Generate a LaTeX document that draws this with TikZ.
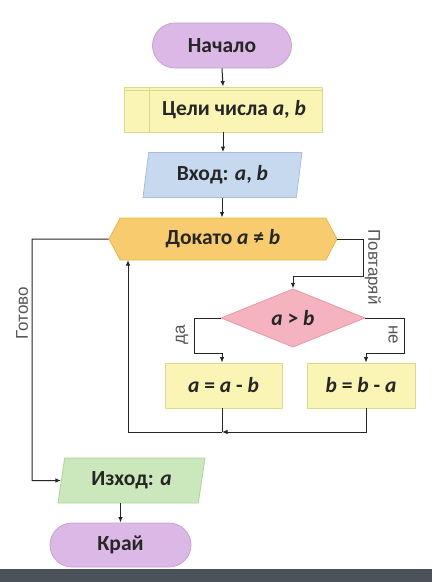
\documentclass[tikz,border=0pt]{standalone}
\usepackage{fontspec}
\setmainfont{Carlito}
\newfontfamily\lblfont{Liberation Sans}
\usetikzlibrary{shapes.geometric,shapes.misc,shapes.symbols,arrows.meta}
\definecolor{termF}{HTML}{DBB8E6}
\definecolor{termB}{HTML}{C7A2D3}
\definecolor{yelF}{HTML}{FAF5B4}
\definecolor{yelB}{HTML}{DCD88E}
\definecolor{bluF}{HTML}{C6D9EF}
\definecolor{bluB}{HTML}{A8BEDA}
\definecolor{oraF}{HTML}{F8CC6E}
\definecolor{oraB}{HTML}{E2B450}
\definecolor{pinF}{HTML}{F4B3BF}
\definecolor{pinB}{HTML}{E39BA8}
\definecolor{grnF}{HTML}{CBE8BC}
\definecolor{grnB}{HTML}{AED39C}
\definecolor{lblC}{HTML}{555555}
\definecolor{barC}{HTML}{4B5259}
\begin{document}
\begin{tikzpicture}[x=1pt,y=-1pt,
  txt/.style={font=\bfseries\fontsize{21.5}{24}\selectfont, text=black!85, inner sep=0pt},
  term/.style={txt, rounded rectangle, draw=termB, fill=termF, line width=0.8pt, minimum width=139pt, minimum height=45pt},
  proc/.style={txt, rectangle, draw=yelB, fill=yelF, line width=0.8pt, minimum height=45pt},
  io/.style={txt, trapezium, trapezium stretches body, line width=0.8pt, minimum height=45pt},
  lbl/.style={font=\lblfont\fontsize{17}{20}\selectfont, text=lblC, inner sep=0pt},
  arr/.style={-{Latex[length=5.5pt,width=4.5pt]}, line width=1pt, black!85},
  ln/.style={line width=1pt, black!85}]
\useasboundingbox (0,0) rectangle (432,582);
\fill[barC] (0,569) rectangle (432,582);

\node[term] (start) at (222,45.5) {Начало};
\node[proc, minimum width=198pt] (vars) at (223,109.5) {\hspace*{22pt}\raisebox{-3pt}{Цели числа \textit{a}, \textit{b}}};
\draw[yelB, line width=0.8pt] ([xshift=26pt]vars.north west) -- ([xshift=26pt]vars.south west);
\draw[yelB, line width=0.8pt] ([yshift=-4pt]vars.north west) -- ([yshift=-4pt]vars.north east);
\node[io, trapezium left angle=73, trapezium right angle=107, draw=bluB, fill=bluF, minimum width=159pt] (inp) at (222.5,175) {Вход: \textit{a}, \textit{b}};
\node[txt, signal, signal to=west and east, signal pointer angle=124, draw=oraB, fill=oraF, line width=0.8pt, minimum width=228pt, minimum height=42pt] (loop) at (223,239) {Докато \textit{a} ≠ \textit{b}};
\node[txt, diamond, draw=pinB, fill=pinF, line width=0.8pt, minimum width=144pt, minimum height=56pt] (cond) at (293,318) {\textit{a} > \textit{b}};
\node[proc, minimum width=117pt] (sa) at (223.5,385.5) {\textit{a} = \textit{a} - \textit{b}};
\node[proc, minimum width=108pt] (sb) at (361,385.5) {\textit{b} = \textit{b} - \textit{a}};
\node[io, trapezium left angle=69, trapezium right angle=111, draw=grnB, fill=grnF, minimum width=147pt] (out) at (131.5,480.5) {Изход: \textit{a}};
\node[term, minimum width=141pt, minimum height=44pt] (end) at (120.5,545) {Край};

\coordinate (lr1) at (363,239);
\coordinate (lr2) at (363,276);
\coordinate (lr3) at (293,276);
\coordinate (ll1) at (32,239);
\coordinate (ll2) at (32,480.5);
\coordinate (ca1) at (194,318);
\coordinate (ca2) at (194,353);
\coordinate (ca3) at (222,353);
\coordinate (cb1) at (404,318);
\coordinate (cb2) at (404,353);
\coordinate (cb3) at (366,353);
\coordinate (m1) at (222,432);
\coordinate (m2) at (366,432);
\coordinate (m3) at (128,432);
\coordinate (m4) at (128,260);

\draw[arr] (start.south) -- (vars.north);
\draw[arr] (vars.south) -- (vars.south |- inp.north);
\draw[arr] (222,198) -- (loop.north -| 222,0);
\draw[arr] (loop.east) -- (lr1) -- (lr2) -- (lr3) -- (cond.north);
\draw[arr] (loop.west) -- (ll1) -- (ll2) -- (out.west);
\draw[arr] (cond.west) -- (ca1) -- (ca2) -- (ca3) -- (ca3 |- sa.north);
\draw[arr] (cond.east) -- (cb1) -- (cb2) -- (cb3) -- (cb3 |- sb.north);
\draw[ln] (sa.south -| m1) -- (m1);
\draw[arr] (sb.south -| m2) -- (m2) -- (m1);
\draw[arr] (m1) -- (m3) -- (m4);
\draw[arr] (out.south -| end.north) -- (end.north);

\node[lbl, rotate=90] (gotovo) at (22,313) {Готово};
\node[lbl, rotate=-90] (povt) at (373,267) {Повтаряй};
\node[lbl, rotate=90] (da) at (182,335) {да};
\node[lbl, rotate=-90] (ne) at (393,335) {не};
\end{tikzpicture}
\end{document}
